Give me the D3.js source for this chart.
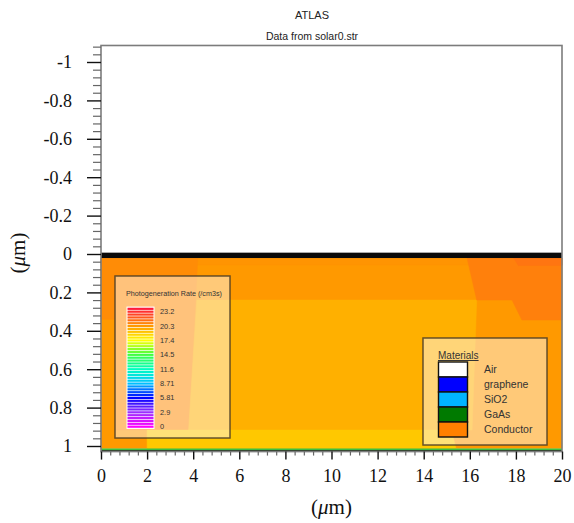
<!DOCTYPE html>
<html>
<head>
<meta charset="utf-8">
<script src="https://cdn.jsdelivr.net/npm/d3@7"></script>
<style>
  html, body { margin: 0; padding: 0; background: #ffffff; }
  svg { display: block; }
</style>
</head>
<body>
<svg id="chart" width="574" height="523"></svg>
<script>
// ---- data -----------------------------------------------------------
const titleText = "ATLAS";
const subtitleText = "Data from solar0.str";

// axis ticks (µm)
const xTicks = [0, 2, 4, 6, 8, 10, 12, 14, 16, 18, 20];
const yTicks = [-1, -0.8, -0.6, -0.4, -0.2, 0, 0.2, 0.4, 0.6, 0.8, 1];
const yTickLabels = ["-1", "-0.8", "-0.6", "-0.4", "-0.2", "0", "0.2", "0.4", "0.6", "0.8", "1"];

// plotted window in device coordinates (µm)
const xExtent = [0, 20];
const yExtent = [-1.086, 1.029];

// layer boundaries along depth (µm)
const airBottom = -0.007;
const contactBottom = 0.021;
const absorberBottom = 1.013;
const backLayerBottom = 1.021;

// photogeneration legend levels (/cm3s)
const rateLabels = [23.2, 20.3, 17.4, 14.5, 11.6, 8.71, 5.81, 2.9, 0];
const rateStep = 0.58;
const rateBandCount = 42;

// photogeneration contour regions: rate level and outline (x, depth in µm)
const contourRegions = [
  { rate: 20.3,  pts: [[0, 0.021], [20, 0.021], [20, 1.013], [0, 1.013]] },
  { rate: 20.45, pts: [[0, 0.021], [20, 0.021], [20, 0.057], [0, 0.057]] },
  { rate: 20.65, pts: [[0, 0.021], [4.2, 0.021], [3.8, 0.917], [0.6, 0.917], [0.6, 0.34], [0, 0.34]] },
  { rate: 19.65, pts: [[4.16, 0.24], [16.3, 0.24], [16.1, 0.917], [3.8, 0.917]] },
  { rate: 18.95, pts: [[2.0, 0.917], [15.2, 0.917], [15.4, 1.013], [2.0, 1.013]] },
  { rate: 21.0,  pts: [[15.88, 0.021], [20, 0.021], [20, 0.344], [18.26, 0.344], [17.83, 0.24], [16.3, 0.24]] },
  { rate: 21.3,  pts: [[17.9, 0.021], [20, 0.021], [20, 0.06], [18.1, 0.06]] }
];

// materials legend
const materials = ["Air", "graphene", "SiO2", "GaAs", "Conductor"];

// ---- styles ---------------------------------------------------------
const materialColors = {
  Air: "#ffffff", graphene: "#0000ff", SiO2: "#00b4ff", GaAs: "#007a00", Conductor: "#ff8000"
};
const rateColorStops = ["#ff00ff", "#9a30ff", "#0000ff", "#00c0ff", "#00ffc0", "#40ff40", "#ffff00", "#ff9900", "#ff3030"];
const serif = "'Liberation Serif', 'Times New Roman', serif";
const sans = "'Liberation Sans', Arial, sans-serif";

// ---- scales ---------------------------------------------------------
const x = d3.scaleLinear().domain([0, 20]).range([101, 562]);
const y = d3.scaleLinear().domain([-1, 1]).range([62, 446]);
const rateColor = d3.scaleLinear()
  .domain(rateLabels.slice().reverse())
  .range(rateColorStops)
  .interpolate(d3.interpolateRgb);

const svg = d3.select("#chart");

// ---- titles ---------------------------------------------------------
svg.append("text").attr("x", 312).attr("y", 19).attr("text-anchor", "middle")
  .attr("font-family", sans).attr("font-size", 11).attr("fill", "#222").text(titleText);
svg.append("text").attr("x", 312).attr("y", 40).attr("text-anchor", "middle")
  .attr("font-family", sans).attr("font-size", 10.5).attr("fill", "#222").text(subtitleText);

// ---- device structure -----------------------------------------------
const plot = svg.append("g");
const band = (top, bottom, fill) => plot.append("rect")
  .attr("x", x(xExtent[0])).attr("width", x(xExtent[1]) - x(xExtent[0]))
  .attr("y", y(top)).attr("height", y(bottom) - y(top)).attr("fill", fill);

band(yExtent[0], airBottom, materialColors.Air);

const line = d3.line().x(d => x(d[0])).y(d => y(d[1]));
plot.selectAll("path.contour").data(contourRegions).join("path")
  .attr("class", "contour")
  .attr("d", d => line(d.pts) + "Z")
  .attr("fill", d => rateColor(d.rate))
  .attr("stroke", d => rateColor(d.rate))
  .attr("stroke-width", 0.5);

band(airBottom, contactBottom, "#0a0a0a");
band(absorberBottom, backLayerBottom, "#3cc03c");
band(backLayerBottom, yExtent[1], "#1e3418");

// frame
svg.append("rect")
  .attr("x", x(xExtent[0])).attr("y", y(yExtent[0]))
  .attr("width", x(xExtent[1]) - x(xExtent[0])).attr("height", y(yExtent[1]) - y(yExtent[0]))
  .attr("fill", "none").attr("stroke", "#7c7c7c").attr("stroke-width", 1.6);

// ---- axes -----------------------------------------------------------
const yMinor = d3.range(-1.08, 1.03, 0.04).filter(v => Math.abs(v * 5 - Math.round(v * 5)) > 1e-6);
const xMinor = d3.range(0, 20.01, 0.4).filter(v => Math.abs(v / 2 - Math.round(v / 2)) > 1e-6);

const gyMinor = svg.append("g").attr("transform", `translate(${x(0)},0)`)
  .call(d3.axisLeft(y).tickValues(yMinor).tickSize(8).tickSizeOuter(0).tickFormat(""));
const gy = svg.append("g").attr("transform", `translate(${x(0)},0)`)
  .call(d3.axisLeft(y).tickValues(yTicks).tickSize(14).tickSizeOuter(0)
    .tickFormat((d, i) => yTickLabels[i]));

const axisY = y(yExtent[1]);
const gxMinor = svg.append("g").attr("transform", `translate(0,${axisY})`)
  .call(d3.axisBottom(x).tickValues(xMinor).tickSize(4).tickSizeOuter(0).tickFormat(""));
const gx = svg.append("g").attr("transform", `translate(0,${axisY})`)
  .call(d3.axisBottom(x).tickValues(xTicks).tickSize(8).tickSizeOuter(0).tickFormat(d3.format("d")));

[gy, gx, gyMinor, gxMinor].forEach(g => g.select(".domain").remove());
[gyMinor, gxMinor].forEach(g => g.selectAll(".tick line").attr("stroke", "#666").attr("stroke-width", 1.2));
[gy, gx].forEach(g => g.selectAll(".tick line").attr("stroke", "#111").attr("stroke-width", 1.4));

gy.selectAll(".tick text")
  .attr("x", -29).attr("dy", "0.33em")
  .attr("font-family", serif).attr("font-size", 18).attr("fill", "#111");
gx.selectAll(".tick text")
  .attr("y", 18).attr("dy", "0.71em")
  .attr("font-family", serif).attr("font-size", 18).attr("fill", "#111");

// axis titles
const yTitle = svg.append("text")
  .attr("transform", `translate(25,${y(0) - 1}) rotate(-90)`)
  .attr("text-anchor", "middle").attr("font-family", serif).attr("font-size", 21).attr("fill", "#111");
yTitle.append("tspan").text("(");
yTitle.append("tspan").attr("font-style", "italic").text("μ");
yTitle.append("tspan").text("m)");

const xTitle = svg.append("text")
  .attr("x", (x(0) + x(20)) / 2).attr("y", 514)
  .attr("text-anchor", "middle").attr("font-family", serif).attr("font-size", 21).attr("fill", "#111");
xTitle.append("tspan").text("(");
xTitle.append("tspan").attr("font-style", "italic").text("μ");
xTitle.append("tspan").text("m)");

// ---- photogeneration legend -----------------------------------------
const pg = svg.append("g");
pg.append("rect").attr("x", 115).attr("y", 276).attr("width", 115).attr("height", 162)
  .attr("fill", "#ffffff").attr("fill-opacity", 0.47)
  .attr("stroke", "#4a3c24").attr("stroke-opacity", 0.85).attr("stroke-width", 1.5);
pg.append("text").attr("x", 126).attr("y", 296)
  .attr("font-family", sans).attr("font-size", 7.2).attr("fill", "#333")
  .text("Photogeneration Rate (/cm3s)");

const ratePos = d3.scaleLinear().domain([0, 23.2]).range([426.7, 311.7]);
const bandH = ratePos(0) - ratePos(rateStep);
const bandValues = d3.range(rateBandCount).map(i => i * rateStep);
pg.append("rect")
  .attr("x", 126.5).attr("width", 28)
  .attr("y", ratePos(bandValues[bandValues.length - 1]) - bandH / 2 - 0.8)
  .attr("height", ratePos(0) - ratePos(bandValues[bandValues.length - 1]) + bandH + 1.6)
  .attr("fill", "#ffffff");
pg.selectAll("rect.band").data(bandValues).join("rect")
  .attr("class", "band")
  .attr("x", 127.5).attr("width", 26)
  .attr("y", d => ratePos(d) - bandH / 2 + 0.35)
  .attr("height", bandH - 0.7)
  .attr("fill", d => rateColor(d));
pg.selectAll("text.rate").data(rateLabels).join("text")
  .attr("class", "rate")
  .attr("x", 160).attr("y", d => ratePos(d)).attr("dy", "0.35em")
  .attr("font-family", sans).attr("font-size", 7.4).attr("fill", "#333")
  .text(d => d);

// ---- materials legend -----------------------------------------------
const ml = svg.append("g");
ml.append("rect").attr("x", 423).attr("y", 338).attr("width", 124).attr("height", 107)
  .attr("fill", "#ffffff").attr("fill-opacity", 0.47)
  .attr("stroke", "#4a3c24").attr("stroke-opacity", 0.85).attr("stroke-width", 1.5);
ml.append("text").attr("x", 438).attr("y", 359)
  .attr("font-family", sans).attr("font-size", 10).attr("fill", "#333")
  .attr("text-decoration", "underline").text("Materials");
const rowY = d3.scaleBand().domain(materials).range([362, 437]);
ml.selectAll("rect.sw").data(materials).join("rect")
  .attr("class", "sw")
  .attr("x", 438.5).attr("width", 29)
  .attr("y", d => rowY(d)).attr("height", rowY.bandwidth())
  .attr("fill", d => materialColors[d])
  .attr("stroke", "#111").attr("stroke-width", 1.4);
ml.selectAll("text.mat").data(materials).join("text")
  .attr("class", "mat")
  .attr("x", 484).attr("y", d => rowY(d) + rowY.bandwidth() / 2).attr("dy", "0.35em")
  .attr("font-family", sans).attr("font-size", 10.5).attr("fill", "#333")
  .text(d => d);
</script>
</body>
</html>
